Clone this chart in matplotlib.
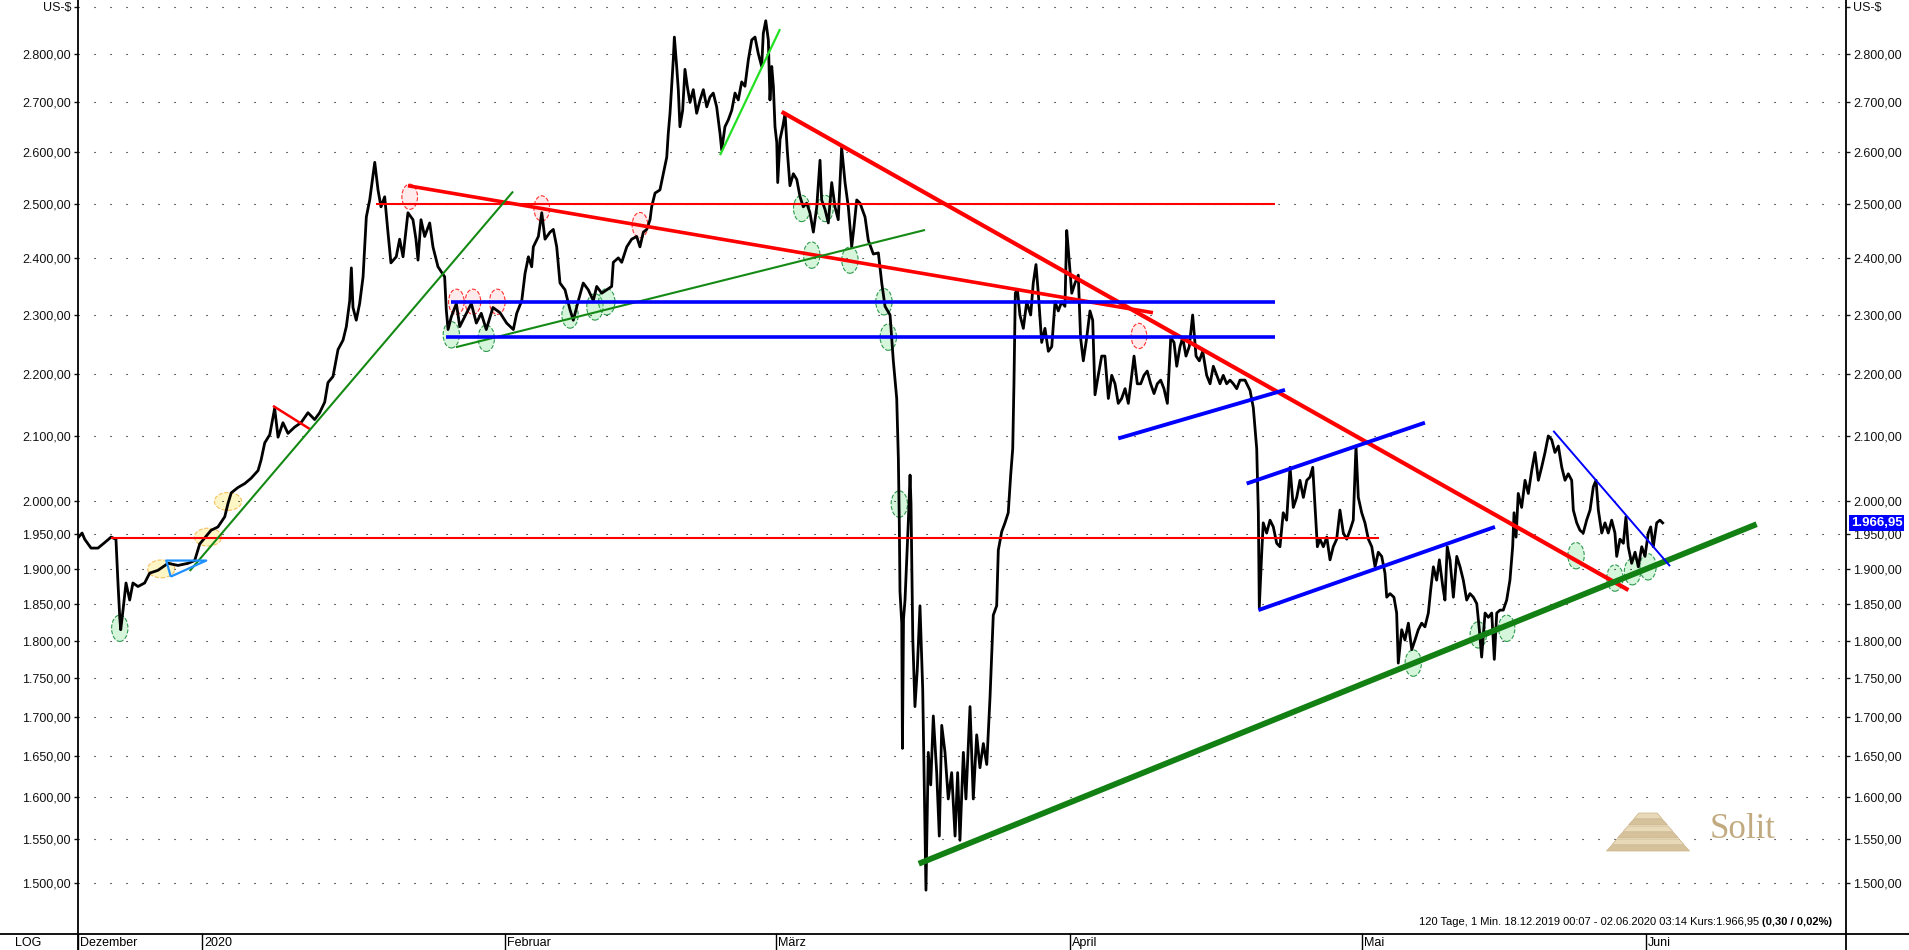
import numpy as np
import matplotlib
matplotlib.use("Agg")
import matplotlib.pyplot as plt
from matplotlib.lines import Line2D
from matplotlib.path import Path
from matplotlib.patches import Polygon
from matplotlib.transforms import Affine2D, blended_transform_factory
from matplotlib.ticker import FixedLocator, FuncFormatter, NullLocator

plt.rcParams['font.family'] = ['Liberation Sans', 'DejaVu Sans']

#----------------------------------------------------------------#
# Kursverlauf (Handelstag ab 18.12.2019, Kurs in US-$)

dez = [(0.00, 1945), (0.30, 1952), (0.49, 1943), (0.96, 1930), (1.47, 1930), (1.96, 1938),
       (2.43, 1946), (2.79, 1943), (2.94, 1880), (3.07, 1832), (3.14, 1815), (3.31, 1842),
       (3.53, 1880), (3.80, 1856), (4.04, 1880), (4.41, 1875), (4.90, 1880), (5.27, 1894),
       (5.88, 1898), (6.62, 1908), (7.35, 1905), (8.09, 1908), (8.58, 1912), (8.95, 1936)]

jan = [(9.32, 1945), (9.78, 1956), (10.29, 1961), (10.79, 1976), (11.03, 1996), (11.27, 2012),
       (11.76, 2020), (12.26, 2026), (12.72, 2034), (13.24, 2046), (13.46, 2062), (13.73, 2089),
       (14.10, 2102), (14.46, 2144), (14.71, 2098), (15.07, 2121), (15.44, 2104), (15.93, 2114),
       (16.40, 2121), (16.91, 2137), (17.40, 2126), (17.77, 2137), (18.14, 2154), (18.38, 2186),
       (18.75, 2196), (19.12, 2241), (19.49, 2257), (19.73, 2280), (19.98, 2325), (20.10, 2383),
       (20.22, 2313), (20.46, 2291), (20.71, 2320), (20.96, 2367), (21.20, 2476), (21.45, 2508),
       (21.82, 2580), (22.06, 2527), (22.28, 2495), (22.55, 2514), (22.79, 2448), (23.01, 2392),
       (23.40, 2403), (23.65, 2435), (23.90, 2403), (24.26, 2484), (24.63, 2471), (24.85, 2435),
       (25.00, 2397), (25.22, 2471), (25.49, 2440), (25.86, 2465), (26.10, 2421), (26.47, 2385),
       (26.96, 2367), (27.08, 2309), (27.21, 2275), (27.45, 2297), (27.82, 2320), (28.07, 2280),
       (28.43, 2297), (28.92, 2320), (29.29, 2286), (29.65, 2303), (30.02, 2275), (30.51, 2313),
       (31.03, 2304)]

feb = [(31.52, 2286), (32.01, 2275), (32.26, 2303), (32.63, 2325), (32.87, 2373), (33.12, 2403),
       (33.36, 2385), (33.48, 2421), (33.85, 2440), (34.10, 2484), (34.34, 2435), (34.71, 2448),
       (34.95, 2453), (35.20, 2421), (35.44, 2356), (35.81, 2344), (36.18, 2309), (36.42, 2291),
       (36.79, 2325), (37.15, 2356), (37.52, 2344), (37.89, 2325), (38.14, 2350), (38.51, 2338),
       (38.88, 2344), (39.24, 2350), (39.36, 2393), (39.73, 2401), (39.98, 2393), (40.35, 2421),
       (40.71, 2435), (41.08, 2440), (41.32, 2421), (41.57, 2448), (41.82, 2453), (42.06, 2471),
       (42.18, 2495), (42.43, 2521), (42.79, 2527), (43.04, 2558), (43.29, 2590), (43.40, 2636),
       (43.53, 2677), (43.65, 2732), (43.77, 2787), (43.85, 2835), (44.02, 2773), (44.14, 2725),
       (44.26, 2650), (44.46, 2683), (44.63, 2767), (44.80, 2732), (45.00, 2699), (45.24, 2725),
       (45.49, 2677), (45.74, 2704), (45.98, 2725), (46.23, 2690), (46.47, 2710), (46.71, 2718),
       (46.96, 2690), (47.21, 2636), (47.33, 2604), (47.57, 2650), (47.82, 2664), (48.07, 2683),
       (48.31, 2718), (48.55, 2704), (48.80, 2741), (49.04, 2732), (49.29, 2787), (49.54, 2829),
       (49.78, 2835), (50.02, 2800), (50.27, 2773), (50.39, 2843), (50.57, 2870), (50.76, 2829),
       (50.88, 2704), (51.01, 2773), (51.13, 2732), (51.25, 2650)]

maerz = [(51.38, 2619), (51.45, 2541), (51.62, 2625), (51.82, 2650), (51.99, 2677), (52.15, 2604),
         (52.35, 2535), (52.60, 2558), (52.85, 2547), (53.09, 2514), (53.33, 2495), (53.58, 2502),
         (53.82, 2484), (54.07, 2448), (54.32, 2495), (54.56, 2584), (54.68, 2508), (54.93, 2490),
         (55.17, 2465), (55.42, 2541), (55.66, 2495), (55.90, 2471), (56.15, 2609), (56.40, 2541),
         (56.64, 2495), (56.89, 2421), (57.06, 2458), (57.26, 2508), (57.50, 2502), (57.87, 2476),
         (58.11, 2433), (58.48, 2408), (58.85, 2410), (59.10, 2356), (59.34, 2315), (59.71, 2300),
         (59.95, 2222), (60.20, 2160), (60.32, 2065), (60.39, 1967), (60.44, 1868), (60.57, 1824),
         (60.62, 1660), (60.70, 1830), (60.81, 1856), (61.05, 1967), (61.18, 2039), (61.25, 1996),
         (61.38, 1804), (61.54, 1713), (61.71, 1761), (61.91, 1848), (62.11, 1736), (62.28, 1554),
         (62.35, 1492), (62.52, 1655), (62.70, 1615), (62.89, 1701), (63.14, 1630), (63.33, 1554),
         (63.51, 1689), (63.75, 1655), (63.99, 1598), (64.24, 1630), (64.49, 1554), (64.68, 1630),
         (64.85, 1549), (65.10, 1655), (65.29, 1598), (65.59, 1713), (65.83, 1598), (66.08, 1677),
         (66.32, 1636), (66.57, 1666), (66.82, 1640), (67.06, 1725), (67.30, 1835), (67.55, 1848),
         (67.67, 1927), (67.92, 1954), (68.16, 1967), (68.40, 1982), (68.58, 2039), (68.73, 2080),
         (68.82, 2184), (68.92, 2338), (69.07, 2345), (69.26, 2300), (69.51, 2277), (69.76, 2323),
         (70.05, 2300), (70.24, 2356), (70.44, 2389), (70.61, 2338), (70.86, 2253), (71.10, 2277),
         (71.35, 2238), (71.60, 2246), (71.84, 2323), (72.08, 2307), (72.33, 2323), (72.57, 2315),
         (72.70, 2451), (72.82, 2415)]

april = [(73.07, 2338), (73.31, 2356), (73.55, 2370), (73.72, 2261), (73.92, 2222), (74.17, 2261),
         (74.41, 2307), (74.61, 2291), (74.78, 2166), (75.02, 2198), (75.27, 2230), (75.51, 2230),
         (75.76, 2160), (76.01, 2198), (76.25, 2184), (76.49, 2152), (76.74, 2160), (76.99, 2176),
         (77.23, 2152), (77.48, 2198), (77.65, 2230), (77.89, 2184), (78.14, 2184), (78.38, 2198),
         (78.62, 2205), (78.87, 2184), (79.12, 2168), (79.36, 2184), (79.61, 2190), (79.85, 2176),
         (80.10, 2152), (80.35, 2261), (80.59, 2253), (80.79, 2213), (81.03, 2246), (81.23, 2261),
         (81.47, 2230), (81.71, 2246), (81.96, 2300), (82.21, 2230), (82.45, 2222), (82.70, 2238),
         (82.99, 2198), (83.24, 2184), (83.48, 2213), (83.73, 2198), (83.97, 2184), (84.21, 2198),
         (84.46, 2184), (84.71, 2190), (84.95, 2184), (85.20, 2176), (85.44, 2190), (85.81, 2190),
         (86.18, 2173), (86.42, 2145), (86.67, 2080), (86.79, 1982), (86.86, 1846), (87.04, 1924),
         (87.15, 1967), (87.40, 1952), (87.65, 1971), (87.89, 1961), (88.14, 1937), (88.38, 1932),
         (88.62, 1982), (88.87, 1971), (89.12, 2051), (89.36, 1990), (89.61, 2005), (89.85, 2031),
         (90.10, 2005), (90.35, 2031), (90.59, 2036), (90.79, 2051), (90.96, 1990), (91.13, 1932),
         (91.32, 1943), (91.57, 1932), (91.82, 1946), (92.06, 1913), (92.30, 1932), (92.55, 1943),
         (92.79, 1986), (93.04, 1952), (93.29, 1943), (93.53, 1956), (93.77, 1971), (93.97, 2084),
         (94.14, 2005), (94.39, 1982)]

mai = [(94.63, 1967), (94.88, 1943), (95.13, 1932), (95.37, 1903), (95.61, 1924), (95.86, 1918),
       (96.10, 1894), (96.23, 1860), (96.47, 1865), (96.76, 1860), (96.96, 1838), (97.08, 1770),
       (97.33, 1815), (97.57, 1801), (97.82, 1824), (98.07, 1788), (98.31, 1801), (98.55, 1815),
       (98.80, 1824), (99.04, 1819), (99.29, 1838), (99.46, 1870), (99.66, 1903), (99.90, 1884),
       (100.10, 1913), (100.35, 1875), (100.51, 1856), (100.68, 1932), (100.88, 1913), (101.13, 1860),
       (101.38, 1918), (101.62, 1903), (101.86, 1884), (102.11, 1856), (102.35, 1865), (102.60, 1860),
       (102.85, 1851), (103.04, 1815), (103.21, 1778), (103.46, 1838), (103.70, 1832), (103.95, 1838),
       (104.14, 1775), (104.32, 1838), (104.56, 1842), (104.80, 1842), (105.05, 1856), (105.29, 1884),
       (105.49, 1932), (105.59, 1982), (105.74, 1946), (105.90, 2011), (106.15, 1990), (106.40, 2031),
       (106.64, 2011), (106.89, 2046), (107.13, 2074), (107.38, 2031), (107.62, 2051), (107.87, 2074),
       (108.11, 2100), (108.36, 2094), (108.60, 2074), (108.85, 2084), (109.10, 2051), (109.34, 2031),
       (109.58, 2041), (109.83, 2031), (109.95, 1986), (110.20, 1967), (110.44, 1956), (110.68, 1952),
       (110.93, 1971), (111.18, 1986), (111.42, 2021), (111.62, 2031), (111.79, 1986), (112.04, 1952),
       (112.28, 1967), (112.52, 1952), (112.77, 1971), (113.01, 1952), (113.14, 1918), (113.38, 1943),
       (113.63, 1937), (113.82, 1976), (113.99, 1932), (114.24, 1908), (114.49, 1924), (114.73, 1903),
       (114.98, 1932), (115.22, 1918)]

juni = [(115.46, 1952), (115.64, 1961), (115.83, 1932), (116.08, 1967), (116.32, 1971),
        (116.52, 1966.95)]

letzter_kurs = 1966.95

monate = ["Dezember", "2020", "Februar", "März", "April", "Mai", "Juni"]
monat_start = [0.0, 9.12, 31.40, 51.32, 72.94, 94.41, 115.29]

y_ticks = [1500, 1550, 1600, 1650, 1700, 1750, 1800, 1850, 1900, 1950, 2000,
           2100, 2200, 2300, 2400, 2500, 2600, 2700, 2800, 2900]

# Trendlinien: (Tage, Kurse)
rot_waagerecht_1 = ([2.45, 95.66], [1945, 1945])
rot_waagerecht_2 = ([21.93, 88.0], [2500, 2500])
rot_fallend_1 = ([24.26, 79.04], [2535, 2304])
rot_fallend_2 = ([51.74, 114.0], [2680, 1870])
rot_kurz = ([14.34, 17.04], [2148, 2111])
gruen_steigend_1 = ([8.21, 31.99], [1897, 2524])
gruen_steigend_2 = ([27.79, 62.28], [2245, 2452])
hellgruen = ([47.21, 51.62], [2594, 2852])
gruen_unterstuetzung = ([61.82, 123.43], [1522, 1965])
blau_waagerecht_1 = ([27.45, 88.0], [2323, 2323])
blau_waagerecht_2 = ([27.08, 88.0], [2262, 2262])
blau_april = ([76.49, 88.75], [2096, 2174])
blau_kanal_oben = ([85.93, 99.04], [2026, 2121])
blau_kanal_unten = ([86.79, 104.19], [1842, 1961])
blau_fallend = ([108.48, 117.06], [2108, 1904])
hellblau_dreieck = ([6.82, 9.43, 6.49, 6.82], [1889, 1912, 1912, 1889])

# Markierungen (Tag, Kurs)
tiefs = [(3.07, 1817), (27.45, 2266), (30.02, 2260), (36.18, 2300), (38.01, 2314), (38.88, 2323),
         (53.21, 2492), (54.93, 2492), (53.95, 2406), (56.76, 2397), (59.26, 2323), (59.58, 2262),
         (60.39, 1995), (98.18, 1770), (102.96, 1808), (105.05, 1817), (110.15, 1919),
         (113.01, 1887), (114.30, 1896), (115.44, 1903)]
hochs = [(24.39, 2514), (27.82, 2323), (29.04, 2323), (30.83, 2323), (34.10, 2492),
         (41.32, 2461), (78.01, 2264)]
gelbe = [(6.12, 1900), (9.56, 1946), (11.03, 1999)]

#----------------------------------------------------------------#

W, H = 1909, 950


def de_zahl(v, pos=None):
    if v >= 2899:
        return "US-$"
    s = f"{v:,.2f}"
    return s.replace(",", "X").replace(".", ",").replace("X", ".")


def linie(ax, daten, farbe, lw, z=4):
    ax.plot(daten[0], daten[1], color=farbe, lw=lw, solid_capstyle='butt', zorder=z)


fig = plt.figure(figsize=(W / 100, H / 100), dpi=100)
ax = fig.add_axes([78 / W, 16 / H, 1768 / W, 934 / H])

kurs = np.array(dez + jan + feb + maerz + april + mai + juni)

# Markierungen unter dem Kurs
ellipse_hoch = Path.unit_circle().transformed(Affine2D().scale(0.62, 1.0))
ellipse_breit = Path.unit_circle().transformed(Affine2D().scale(1.0, 0.66))
t = np.array(tiefs)
ax.scatter(t[:, 0], t[:, 1], s=360, marker=ellipse_hoch, facecolor=(0.55, 0.9, 0.6, 0.35),
           edgecolor='#2f9a4f', linewidths=0.8, linestyle='--', zorder=1)
h = np.array(hochs)
ax.scatter(h[:, 0], h[:, 1], s=330, marker=ellipse_hoch, facecolor=(1.0, 0.75, 0.75, 0.3),
           edgecolor='#ff3030', linewidths=0.8, linestyle='--', zorder=1)
g = np.array(gelbe)
ax.scatter(g[:, 0], g[:, 1], s=380, marker=ellipse_breit, facecolor=(1.0, 0.93, 0.5, 0.45),
           edgecolor='#f5c060', linewidths=0.8, linestyle='--', zorder=1)

ax.plot(kurs[:, 0], kurs[:, 1], color='black', lw=2.0, zorder=3)

# Trendlinien
linie(ax, rot_waagerecht_1, '#ff0000', 1.5)
linie(ax, rot_waagerecht_2, '#ff0000', 1.5)
linie(ax, rot_fallend_1, '#ff0000', 2.6)
linie(ax, rot_fallend_2, '#ff0000', 3.0)
linie(ax, rot_kurz, '#ff0000', 1.8)
linie(ax, gruen_steigend_1, '#148a14', 1.5)
linie(ax, gruen_steigend_2, '#148a14', 1.5)
linie(ax, hellgruen, '#22e022', 1.6)
linie(ax, gruen_unterstuetzung, '#128012', 4.2)
linie(ax, blau_waagerecht_1, '#0000ff', 2.6)
linie(ax, blau_waagerecht_2, '#0000ff', 2.6)
linie(ax, blau_april, '#0000ff', 2.8)
linie(ax, blau_kanal_oben, '#0000ff', 2.8)
linie(ax, blau_kanal_unten, '#0000ff', 2.8)
linie(ax, blau_fallend, '#0000ff', 1.4)
linie(ax, hellblau_dreieck, '#1e90ff', 1.6)

# Achsen
ax.set_yscale('log')
ax.set_ylim(1443.6, 2915.2)
ax.set_xlim(0, 130)
ax.yaxis.set_major_locator(FixedLocator(y_ticks))
ax.yaxis.set_major_formatter(FuncFormatter(de_zahl))
ax.yaxis.set_minor_locator(NullLocator())
ax.set_xticks([])
ax.tick_params(axis='y', direction='out', length=3, width=1, labelsize=9, pad=2,
               left=True, right=True, labelleft=True, labelright=True, colors='#111111')
ax.yaxis.grid(True, linestyle=(0, (1, 13.4)), lw=0.8, color='black')
for s in ['top', 'bottom']:
    ax.spines[s].set_visible(False)
for s in ['left', 'right']:
    ax.spines[s].set_linewidth(1.3)

# Zeitleiste unten
y0 = 16 / H
fig.add_artist(Line2D([0, 1], [y0, y0], color='black', lw=1.3, transform=fig.transFigure))
for xf in [78 / W, 1846 / W]:
    fig.add_artist(Line2D([xf, xf], [0, y0], color='black', lw=1.3, transform=fig.transFigure))
blend = blended_transform_factory(ax.transData, fig.transFigure)
for name, m in zip(monate, monat_start):
    ax.add_artist(Line2D([m, m], [0, y0], color='black', lw=1.0, transform=blend, clip_on=False))
    ax.annotate(name, xy=(m, 7 / H), xycoords=blend, xytext=(1.5, 0), textcoords='offset points',
                va='center', ha='left', fontsize=9, annotation_clip=False)
fig.text(28 / W, 7 / H, "LOG", ha='center', va='center', fontsize=9)

# aktueller Kurs
blend_r = blended_transform_factory(ax.transAxes, ax.transData)
ax.text(1.0 + 5 / 1768, letzter_kurs, de_zahl(letzter_kurs), transform=blend_r, ha='left',
        va='center', color='white', fontweight='bold', fontsize=9.5,
        bbox=dict(facecolor='#0000ff', edgecolor='none', pad=1.2), zorder=10)

# Info-Zeile
renderer = fig.canvas.get_renderer()
y_info = (H - 922) / H
fett = fig.text(1832 / W, y_info, "(0,30 / 0,02%)", ha='right', va='center',
                fontsize=8, fontweight='bold')
bb = fett.get_window_extent(renderer)
fig.text((bb.x0 - 3) / W, y_info,
         "120 Tage, 1 Min. 18.12.2019 00:07 - 02.06.2020 03:14 Kurs:" + de_zahl(letzter_kurs),
         ha='right', va='center', fontsize=8)

# Solit-Logo
for i in range(6):
    top = 813 + i * 6.5
    bot = top + 5.5
    w_top = 9 + i * 5.5
    w_bot = w_top + 5
    cx = 1648
    pts = [(cx - w_top, top), (cx + w_top, top), (cx + w_bot, bot), (cx - w_bot, bot)]
    pts = [(x / W, (H - y) / H) for x, y in pts]
    farbe = '#e8d9b8' if i % 2 == 0 else '#d6c29a'
    fig.add_artist(Polygon(pts, closed=True, facecolor=farbe, edgecolor='#c9b286', lw=0.5,
                           transform=fig.transFigure))
fig.text(1710 / W, (H - 830) / H, "Solit", family='Liberation Serif', fontsize=25,
         color='#c2aa80', ha='left', va='center')

fig.savefig('out.png', dpi=100)
